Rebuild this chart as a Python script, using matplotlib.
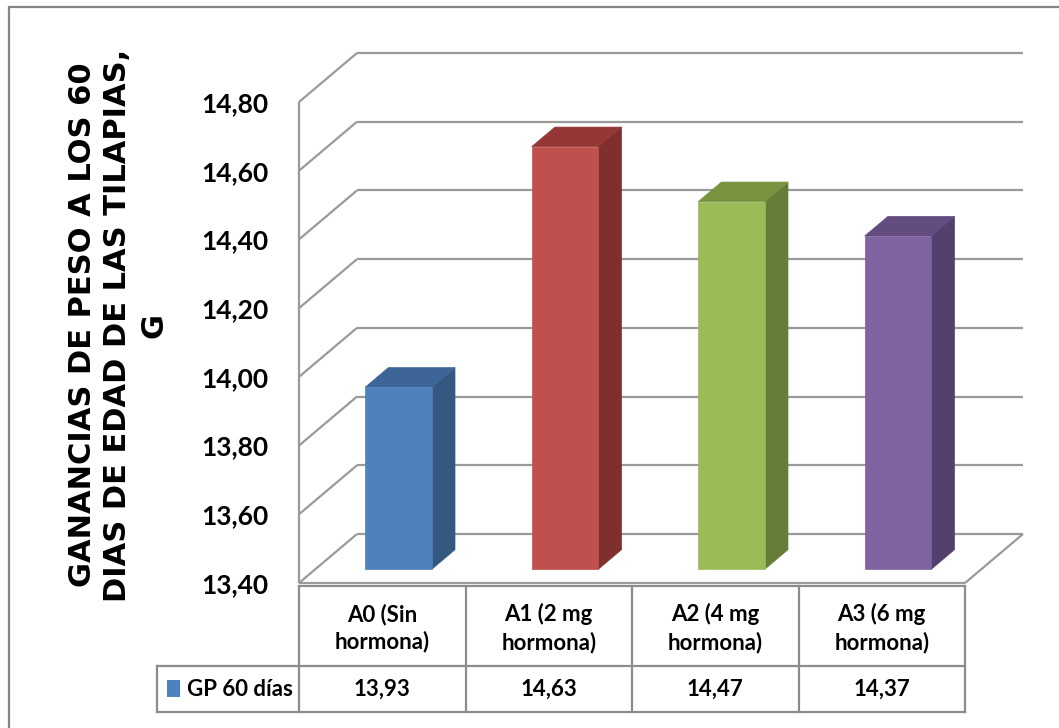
import matplotlib
matplotlib.use("Agg")
import matplotlib.pyplot as plt
from matplotlib.patches import Polygon, Rectangle
from matplotlib.transforms import blended_transform_factory

# ---- data ----
categories = ["A0 (Sin\nhormona)", "A1 (2 mg\nhormona)", "A2 (4 mg\nhormona)", "A3 (6 mg\nhormona)"]
series_name = "GP 60 días"
values = [13.93, 14.63, 14.47, 14.37]
y_ticks = [13.40, 13.60, 13.80, 14.00, 14.20, 14.40, 14.60, 14.80]
y_title = "GANANCIAS DE PESO A LOS 60\nDIAS DE EDAD DE LAS TILAPIAS,\nG"

# face colours per bar: front, top, side
front_colors = ["#4F81BD", "#C0504D", "#9BBB59", "#8064A2"]
top_colors = ["#3D6597", "#953735", "#78943F", "#634C80"]
side_colors = ["#34587F", "#7F2F2D", "#667D39", "#54406D"]

W, H = 1059, 728
fig = plt.figure(figsize=(W / 100, H / 100), dpi=100)
fig.patch.set_facecolor("white")

# front plane of the 3-D box
left_px, right_px, top_px, bot_px = 299, 965, 102, 583
ax = fig.add_axes([left_px / W, (H - bot_px) / H, (right_px - left_px) / W, (bot_px - top_px) / H])
ymin, ymax = y_ticks[0], y_ticks[-1]
ncat = len(categories)
ax.set_xlim(0, ncat)
ax.set_ylim(ymin, ymax)
for s in ax.spines.values():
    s.set_visible(False)
ax.set_xticks([])
ax.set_yticks(y_ticks)
ax.set_yticklabels([f"{t:.2f}".replace(".", ",") for t in y_ticks],
                   fontfamily="Lato", fontweight="bold", fontsize=19)
ax.tick_params(axis="y", length=0, pad=22)
ax.patch.set_alpha(0)

# depth vector of the box expressed in data units
px_per_x = (right_px - left_px) / ncat
px_per_y = (bot_px - top_px) / (ymax - ymin)
ddx, ddy = 58 / px_per_x, 49 / px_per_y

grid_kw = dict(color="#9A9A9A", lw=1.6, clip_on=False, solid_capstyle="butt", zorder=1)

# back wall and side wall gridlines
for t in y_ticks:
    ax.plot([ddx, ncat + ddx], [t + ddy, t + ddy], **grid_kw)
    ax.plot([0, ddx], [t, t + ddy], **grid_kw)
# side wall front edge
ax.plot([0, 0], [ymin, ymax], **grid_kw)
# floor outline
ax.plot([0, ncat], [ymin, ymin], **grid_kw)
ax.plot([ncat, ncat + ddx], [ymin, ymin + ddy], **grid_kw)

# bars
f0, f1 = 0.28, 0.68
half = 0.2
for i, v in enumerate(values):
    x0, x1 = i + 0.5 - half, i + 0.5 + half
    ax0, ay0 = f0 * ddx, f0 * ddy
    ax1, ay1 = f1 * ddx, f1 * ddy
    front = [(x0 + ax0, ymin + ay0), (x1 + ax0, ymin + ay0), (x1 + ax0, v + ay0), (x0 + ax0, v + ay0)]
    side = [(x1 + ax0, ymin + ay0), (x1 + ax1, ymin + ay1), (x1 + ax1, v + ay1), (x1 + ax0, v + ay0)]
    top = [(x0 + ax0, v + ay0), (x1 + ax0, v + ay0), (x1 + ax1, v + ay1), (x0 + ax1, v + ay1)]
    for pts, c in ((side, side_colors[i]), (top, top_colors[i]), (front, front_colors[i])):
        ax.add_patch(Polygon(pts, closed=True, facecolor=c, edgecolor=c, lw=0.5,
                             clip_on=False, zorder=3))

# data table below the plot
tt = blended_transform_factory(ax.transData, fig.transFigure)
def fy(px):
    return (H - px) / H

row_top, row_mid, row_bot = 586, 666, 712
legend_left = (157 - left_px) / px_per_x
tab_kw = dict(color="#8C8C8C", lw=1.6, transform=tt, clip_on=False, solid_capstyle="projecting")
ax.plot([0, ncat], [fy(row_top), fy(row_top)], **tab_kw)
ax.plot([legend_left, ncat], [fy(row_mid), fy(row_mid)], **tab_kw)
ax.plot([legend_left, ncat], [fy(row_bot), fy(row_bot)], **tab_kw)
ax.plot([legend_left, legend_left], [fy(row_mid), fy(row_bot)], **tab_kw)
for k in range(ncat + 1):
    ax.plot([k, k], [fy(row_top), fy(row_bot)], **tab_kw)

txt_kw = dict(transform=tt, fontfamily="Lato", fontweight="bold", fontsize=16,
              ha="center", va="center", clip_on=False)
for i, (c, v) in enumerate(zip(categories, values)):
    ax.text(i + 0.5, fy((row_top + row_mid) / 2 + 2), c, linespacing=1.35, **txt_kw)
    ax.text(i + 0.5, fy((row_mid + row_bot) / 2), f"{v:.2f}".replace(".", ","), **txt_kw)

# legend key in the table
kx0 = (167 - left_px) / px_per_x
kx1 = (180 - left_px) / px_per_x
ax.add_patch(Rectangle((kx0, fy(697)), kx1 - kx0, fy(680) - fy(697), transform=tt,
                       facecolor=front_colors[0], edgecolor="none", clip_on=False))
ax.text((187 - left_px) / px_per_x, fy((row_mid + row_bot) / 2), series_name,
        transform=tt, fontfamily="Lato", fontweight="bold", fontsize=16,
        ha="left", va="center", clip_on=False)

# axis title
fig.text(118 / W, fy(325), y_title, rotation=90, ha="center", va="center",
         multialignment="center", fontfamily="DejaVu Sans", fontweight="bold",
         fontsize=22, linespacing=1.3)

# chart area border
fig.add_artist(Rectangle((9 / W, -0.05), 1.2, fy(7) + 0.05, transform=fig.transFigure,
                         facecolor="none", edgecolor="#868686", lw=1.6))

fig.savefig("out.png", dpi=100, facecolor="white")
